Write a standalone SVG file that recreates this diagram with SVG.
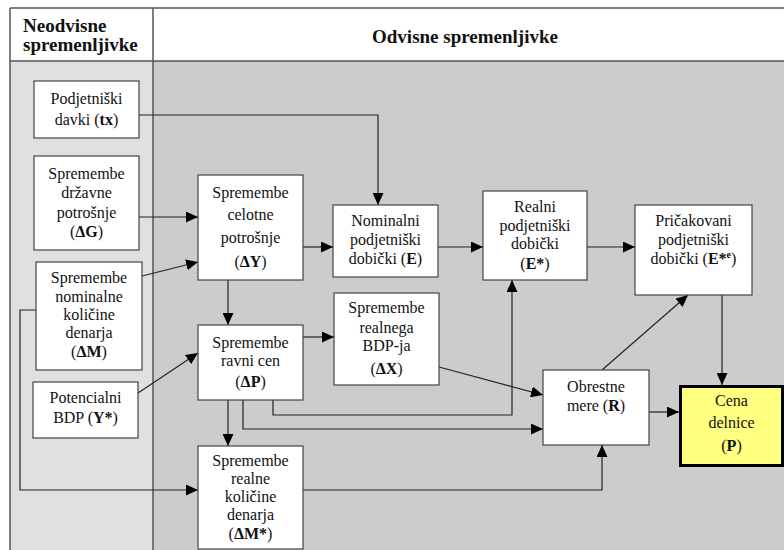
<svg xmlns="http://www.w3.org/2000/svg" width="784" height="550" viewBox="0 0 784 550">
<defs>
<marker id="ah" markerUnits="userSpaceOnUse" markerWidth="12" markerHeight="11" refX="12" refY="5.5" orient="auto">
<path d="M0,0 L12,5.5 L0,11 z" fill="#000"/>
</marker>
<style>
.box{fill:#fff;stroke:#444;stroke-width:1.2}
.t{font-size:16px;fill:#111;text-anchor:middle}
.h{font-size:19px;font-weight:bold;fill:#111}
.b{font-weight:bold}
.c{fill:none;stroke:#222;stroke-width:1.2;marker-end:url(#ah)}
.frame{fill:none;stroke:#555;stroke-width:1.5}
</style>
</defs>
<rect x="0" y="0" width="784" height="550" fill="#fff"/>
<rect x="10" y="61" width="143" height="489" fill="#e0e0e0"/>
<rect x="153" y="61" width="631" height="489" fill="#cccccc"/>
<g id="frame" font-family="Liberation Serif, Times New Roman, serif">
<line class="frame" x1="10" y1="8" x2="784" y2="8"/>
<line class="frame" x1="10" y1="61" x2="784" y2="61"/>
<line class="frame" x1="10" y1="8" x2="10" y2="550"/>
<line class="frame" x1="153" y1="8" x2="153" y2="550"/>
<text class="h" x="23" y="32">Neodvisne</text>
<text class="h" x="23" y="51">spremenljivke</text>
<text class="h" x="465" y="43" text-anchor="middle">Odvisne spremenljivke</text>
</g>
<g id="connectors">
<path class="c" d="M139,115 H378 V205"/>
<path class="c" d="M139,217 H198"/>
<path class="c" d="M142,276 L198,262"/>
<path class="c" d="M303,247 H333"/>
<path class="c" d="M228,280 V325"/>
<path class="c" d="M438,247 H483"/>
<path class="c" d="M587,247 H635"/>
<path class="c" d="M303,337 H334"/>
<path class="c" d="M138,393 L198,353"/>
<path class="c" d="M228,400 V446"/>
<path class="c" d="M36,310 H20 V490 H198"/>
<path class="c" d="M273,400 V415 H512 V280"/>
<path class="c" d="M243,400 V429 H543"/>
<path class="c" d="M439,367 L543,395"/>
<path class="c" d="M303,490 H602 V445"/>
<path class="c" d="M602,370 L688,295"/>
<path class="c" d="M722,295 V385"/>
<path class="c" d="M649,412 H679"/>
</g>
<g font-family="Liberation Serif, Times New Roman, serif">
<g id="tx">
<rect class="box" x="34" y="81" width="105" height="57"/>
<text class="t" x="86.5" y="104">Podjetniški</text>
<text class="t" x="86.5" y="125">davki (<tspan class="b">tx</tspan>)</text>
</g>
<g id="dG">
<rect class="box" x="34" y="156" width="105" height="94"/>
<text class="t" x="86.5" y="179">Spremembe</text>
<text class="t" x="86.5" y="198">državne</text>
<text class="t" x="86.5" y="218">potrošnje</text>
<text class="t" x="86.5" y="237">(<tspan class="b">ΔG</tspan>)</text>
</g>
<g id="dM">
<rect class="box" x="36" y="262" width="106" height="108"/>
<text class="t" x="89" y="283">Spremembe</text>
<text class="t" x="89" y="302">nominalne</text>
<text class="t" x="89" y="320">količine</text>
<text class="t" x="89" y="338">denarja</text>
<text class="t" x="89" y="357">(<tspan class="b">ΔM</tspan>)</text>
</g>
<g id="Ystar">
<rect class="box" x="33" y="382" width="105" height="56"/>
<text class="t" x="85.5" y="403">Potencialni</text>
<text class="t" x="85.5" y="423">BDP (<tspan class="b">Y*</tspan>)</text>
</g>
<g id="dY">
<rect class="box" x="198" y="175" width="105" height="105"/>
<text class="t" x="250.5" y="198">Spremembe</text>
<text class="t" x="250.5" y="220">celotne</text>
<text class="t" x="250.5" y="243">potrošnje</text>
<text class="t" x="250.5" y="267">(<tspan class="b">ΔY</tspan>)</text>
</g>
<g id="dP">
<rect class="box" x="198" y="325" width="105" height="75"/>
<text class="t" x="250.5" y="348">Spremembe</text>
<text class="t" x="250.5" y="366">ravni cen</text>
<text class="t" x="250.5" y="387">(<tspan class="b">ΔP</tspan>)</text>
</g>
<g id="dMstar">
<rect class="box" x="198" y="446" width="105" height="103"/>
<text class="t" x="250.5" y="466">Spremembe</text>
<text class="t" x="250.5" y="484">realne</text>
<text class="t" x="250.5" y="502">količine</text>
<text class="t" x="250.5" y="520">denarja</text>
<text class="t" x="250.5" y="539">(<tspan class="b">ΔM*</tspan>)</text>
</g>
<g id="E">
<rect class="box" x="333" y="205" width="105" height="72"/>
<text class="t" x="385.5" y="226">Nominalni</text>
<text class="t" x="385.5" y="245">podjetniški</text>
<text class="t" x="385.5" y="264">dobički (<tspan class="b">E</tspan>)</text>
</g>
<g id="dX">
<rect class="box" x="334" y="293" width="105" height="92"/>
<text class="t" x="386.5" y="313">Spremembe</text>
<text class="t" x="386.5" y="333">realnega</text>
<text class="t" x="386.5" y="351">BDP-ja</text>
<text class="t" x="386.5" y="374">(<tspan class="b">ΔX</tspan>)</text>
</g>
<g id="Estar">
<rect class="box" x="483" y="191" width="104" height="89"/>
<text class="t" x="535" y="212">Realni</text>
<text class="t" x="535" y="231">podjetniški</text>
<text class="t" x="535" y="249">dobički</text>
<text class="t" x="535" y="269">(<tspan class="b">E*</tspan>)</text>
</g>
<g id="Ee">
<rect class="box" x="635" y="205" width="117" height="90"/>
<text class="t" x="693.5" y="226">Pričakovani</text>
<text class="t" x="693.5" y="245">podjetniški</text>
<text class="t" x="693.5" y="264">dobički (<tspan class="b">E*<tspan font-size="10" dy="-6">e</tspan></tspan><tspan dy="6">)</tspan></text>
</g>
<g id="R">
<rect class="box" x="543" y="370" width="106" height="75"/>
<text class="t" x="596" y="392">Obrestne</text>
<text class="t" x="596" y="411">mere (<tspan class="b">R</tspan>)</text>
</g>
<g id="P">
<rect x="680.5" y="386.5" width="102" height="79" fill="#ffff80" stroke="#000" stroke-width="3"/>
<text class="t" x="731.5" y="406">Cena</text>
<text class="t" x="731.5" y="428">delnice</text>
<text class="t" x="731.5" y="451">(<tspan class="b">P</tspan>)</text>
</g>
</g>
</svg>
